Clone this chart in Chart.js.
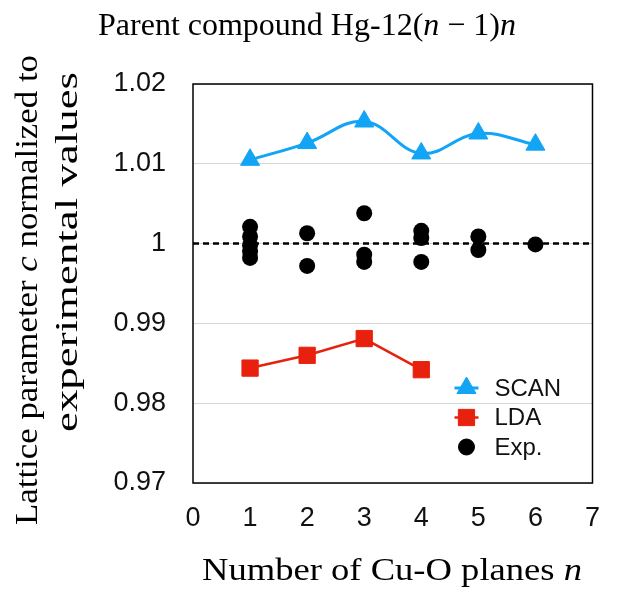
<!DOCTYPE html>
<html>
<head>
<meta charset="utf-8">
<script src="https://cdn.jsdelivr.net/npm/chart.js@4.4.1/dist/chart.umd.min.js"></script>
<style>
  html, body { margin: 0; padding: 0; background: #ffffff; }
  canvas { display: block; }
</style>
</head>
<body>
<canvas id="latticeChart" width="619" height="593"></canvas>
<script>
// number of Cu-O planes
const nValues = [1, 2, 3, 4, 5, 6];
const scanValues = [1.0105, 1.0126, 1.0153, 1.0113, 1.0138, 1.0124];

const ldaN = [1, 2, 3, 4];
const ldaValues = [0.9844, 0.9860, 0.9881, 0.9842];

// experimental points (several samples per n)
const expN = [1, 1, 1, 1, 1, 2, 2, 3, 3, 3, 4, 4, 4, 5, 5, 6];
const expValues = [1.0021, 1.0009, 0.9998, 0.9990, 0.9982, 1.0013, 0.9972, 1.0038, 0.9986, 0.9977, 1.0016, 1.0007, 0.9977, 1.0009, 0.9992, 0.9999];

const xRange = [0, 7];
const yTicks = [0.97, 0.98, 0.99, 1.00, 1.01, 1.02];
const refLevel = 1;

const scanColor = "#12a4f5";
const ldaColor = "#e8210e";

const toPoints = (xs, ys) => xs.map((x, i) => ({ x: x, y: ys[i] }));

// text made of upright and italic pieces, optionally stretched to a length
function drawRuns(ctx, runs, x, y, size, opts) {
  opts = opts || {};
  ctx.save();
  ctx.translate(x, y);
  if (opts.rotate) ctx.rotate(-Math.PI / 2);
  ctx.textBaseline = "alphabetic";
  ctx.textAlign = "left";
  ctx.fillStyle = "#000";
  const fontOf = (r) => (r.italic ? "italic " : "") + size + 'px "Liberation Serif", "DejaVu Serif", serif';
  let total = 0;
  runs.forEach((r) => {
    ctx.font = fontOf(r);
    total += ctx.measureText(r.text).width;
  });
  if (opts.length) ctx.scale(opts.length / total, 1);
  let cx = -total / 2;
  runs.forEach((r) => {
    ctx.font = fontOf(r);
    ctx.fillText(r.text, cx, 0);
    cx += ctx.measureText(r.text).width;
  });
  ctx.restore();
}

const labelsPlugin = {
  id: "labels",
  afterDraw(chart) {
    const ctx = chart.ctx;
    drawRuns(ctx, [
      { text: "Parent compound Hg-12(" },
      { text: "n", italic: true },
      { text: " \u2212 1)" },
      { text: "n", italic: true },
    ], 307, 35, 32);
    drawRuns(ctx, [
      { text: "Number of Cu-O planes " },
      { text: "n", italic: true },
    ], 392, 580, 32, { length: 380 });
    drawRuns(ctx, [
      { text: "Lattice parameter " },
      { text: "c", italic: true },
      { text: " normalized to" },
    ], 37, 290, 32, { rotate: true, length: 470 });
    drawRuns(ctx, [{ text: "experimental values" }], 77, 252, 32, { rotate: true, length: 360 });
  },
};

// box round the plot
const framePlugin = {
  id: "frame",
  beforeDatasetsDraw(chart) {
    const a = chart.chartArea;
    const ctx = chart.ctx;
    ctx.save();
    ctx.strokeStyle = "#000";
    ctx.lineWidth = 1.5;
    ctx.strokeRect(a.left, a.top, a.right - a.left, a.bottom - a.top);
    ctx.restore();
  },
};

// legend sitting inside the lower right of the plot
const insideLegend = {
  id: "insideLegend",
  afterDatasetsDraw(chart) {
    const ctx = chart.ctx;
    const a = chart.chartArea;
    const mx = a.right - 126;
    let my = a.bottom - 95;
    ctx.save();
    chart.data.datasets.forEach((ds) => {
      if (!ds.label) return;
      if (ds.showLine !== false) {
        ctx.strokeStyle = ds.borderColor;
        ctx.lineWidth = ds.borderWidth;
        ctx.beginPath();
        ctx.moveTo(mx - 12, my);
        ctx.lineTo(mx + 12, my);
        ctx.stroke();
      }
      ctx.fillStyle = ds.pointBackgroundColor;
      ctx.strokeStyle = ds.pointBackgroundColor;
      ctx.lineWidth = 1;
      Chart.helpers.drawPoint(ctx, { pointStyle: ds.pointStyle, radius: ds.pointRadius, borderWidth: 1, rotation: 0 }, mx, my);
      ctx.fillStyle = "#111";
      ctx.font = '24px "Liberation Sans", Arial, sans-serif';
      ctx.textBaseline = "middle";
      ctx.textAlign = "left";
      ctx.fillText(ds.label, mx + 28, my + 1);
      my += 29.5;
    });
    ctx.restore();
  },
};

const ctx = document.getElementById("latticeChart").getContext("2d");
new Chart(ctx, {
  type: "scatter",
  data: {
    datasets: [
      {
        label: "SCAN",
        data: toPoints(nValues, scanValues),
        showLine: true,
        tension: 0.4,
        borderColor: scanColor,
        borderWidth: 3,
        pointStyle: "triangle",
        pointRadius: 11,
        pointBackgroundColor: scanColor,
        pointBorderColor: scanColor,
        pointBorderWidth: 1,
        order: 1,
      },
      {
        label: "LDA",
        data: toPoints(ldaN, ldaValues),
        showLine: true,
        borderColor: ldaColor,
        borderWidth: 2.5,
        pointStyle: "rect",
        pointRadius: 11.5,
        pointBackgroundColor: ldaColor,
        pointBorderColor: ldaColor,
        pointBorderWidth: 1,
        order: 2,
      },
      {
        label: "Exp.",
        data: toPoints(expN, expValues),
        showLine: false,
        pointStyle: "circle",
        pointRadius: 8,
        pointBackgroundColor: "#000",
        pointBorderColor: "#000",
        pointBorderWidth: 0,
        order: 3,
      },
      {
        // reference line at 1
        data: toPoints(xRange, [refLevel, refLevel]),
        showLine: true,
        borderColor: "#000",
        borderWidth: 2.5,
        borderDash: [6, 4],
        pointRadius: 0,
        order: 4,
      },
    ],
  },
  options: {
    responsive: false,
    animation: false,
    devicePixelRatio: 1,
    layout: { padding: { top: 84, right: 26, left: 0, bottom: 0 } },
    plugins: {
      legend: { display: false },
      tooltip: { enabled: false },
    },
    scales: {
      x: {
        type: "linear",
        min: xRange[0],
        max: xRange[1],
        afterFit: (s) => { s.height = 110; },
        grid: { display: false, drawTicks: false },
        border: { display: false },
        ticks: {
          stepSize: 1,
          padding: 19,
          color: "#111",
          font: { family: '"Liberation Sans", Arial, sans-serif', size: 27 },
        },
      },
      y: {
        type: "linear",
        min: yTicks[0],
        max: yTicks[yTicks.length - 1],
        afterFit: (s) => { s.width = 193; },
        afterBuildTicks: (s) => { s.ticks = yTicks.map((v) => ({ value: v })); },
        grid: { color: "#d6d6d6", lineWidth: 1, drawTicks: false },
        border: { display: false },
        ticks: {
          padding: 27,
          color: "#111",
          font: { family: '"Liberation Sans", Arial, sans-serif', size: 27 },
          callback: (v) => String(Number(v.toFixed(2))),
        },
      },
    },
  },
  plugins: [framePlugin, insideLegend, labelsPlugin],
});
</script>
</body>
</html>
